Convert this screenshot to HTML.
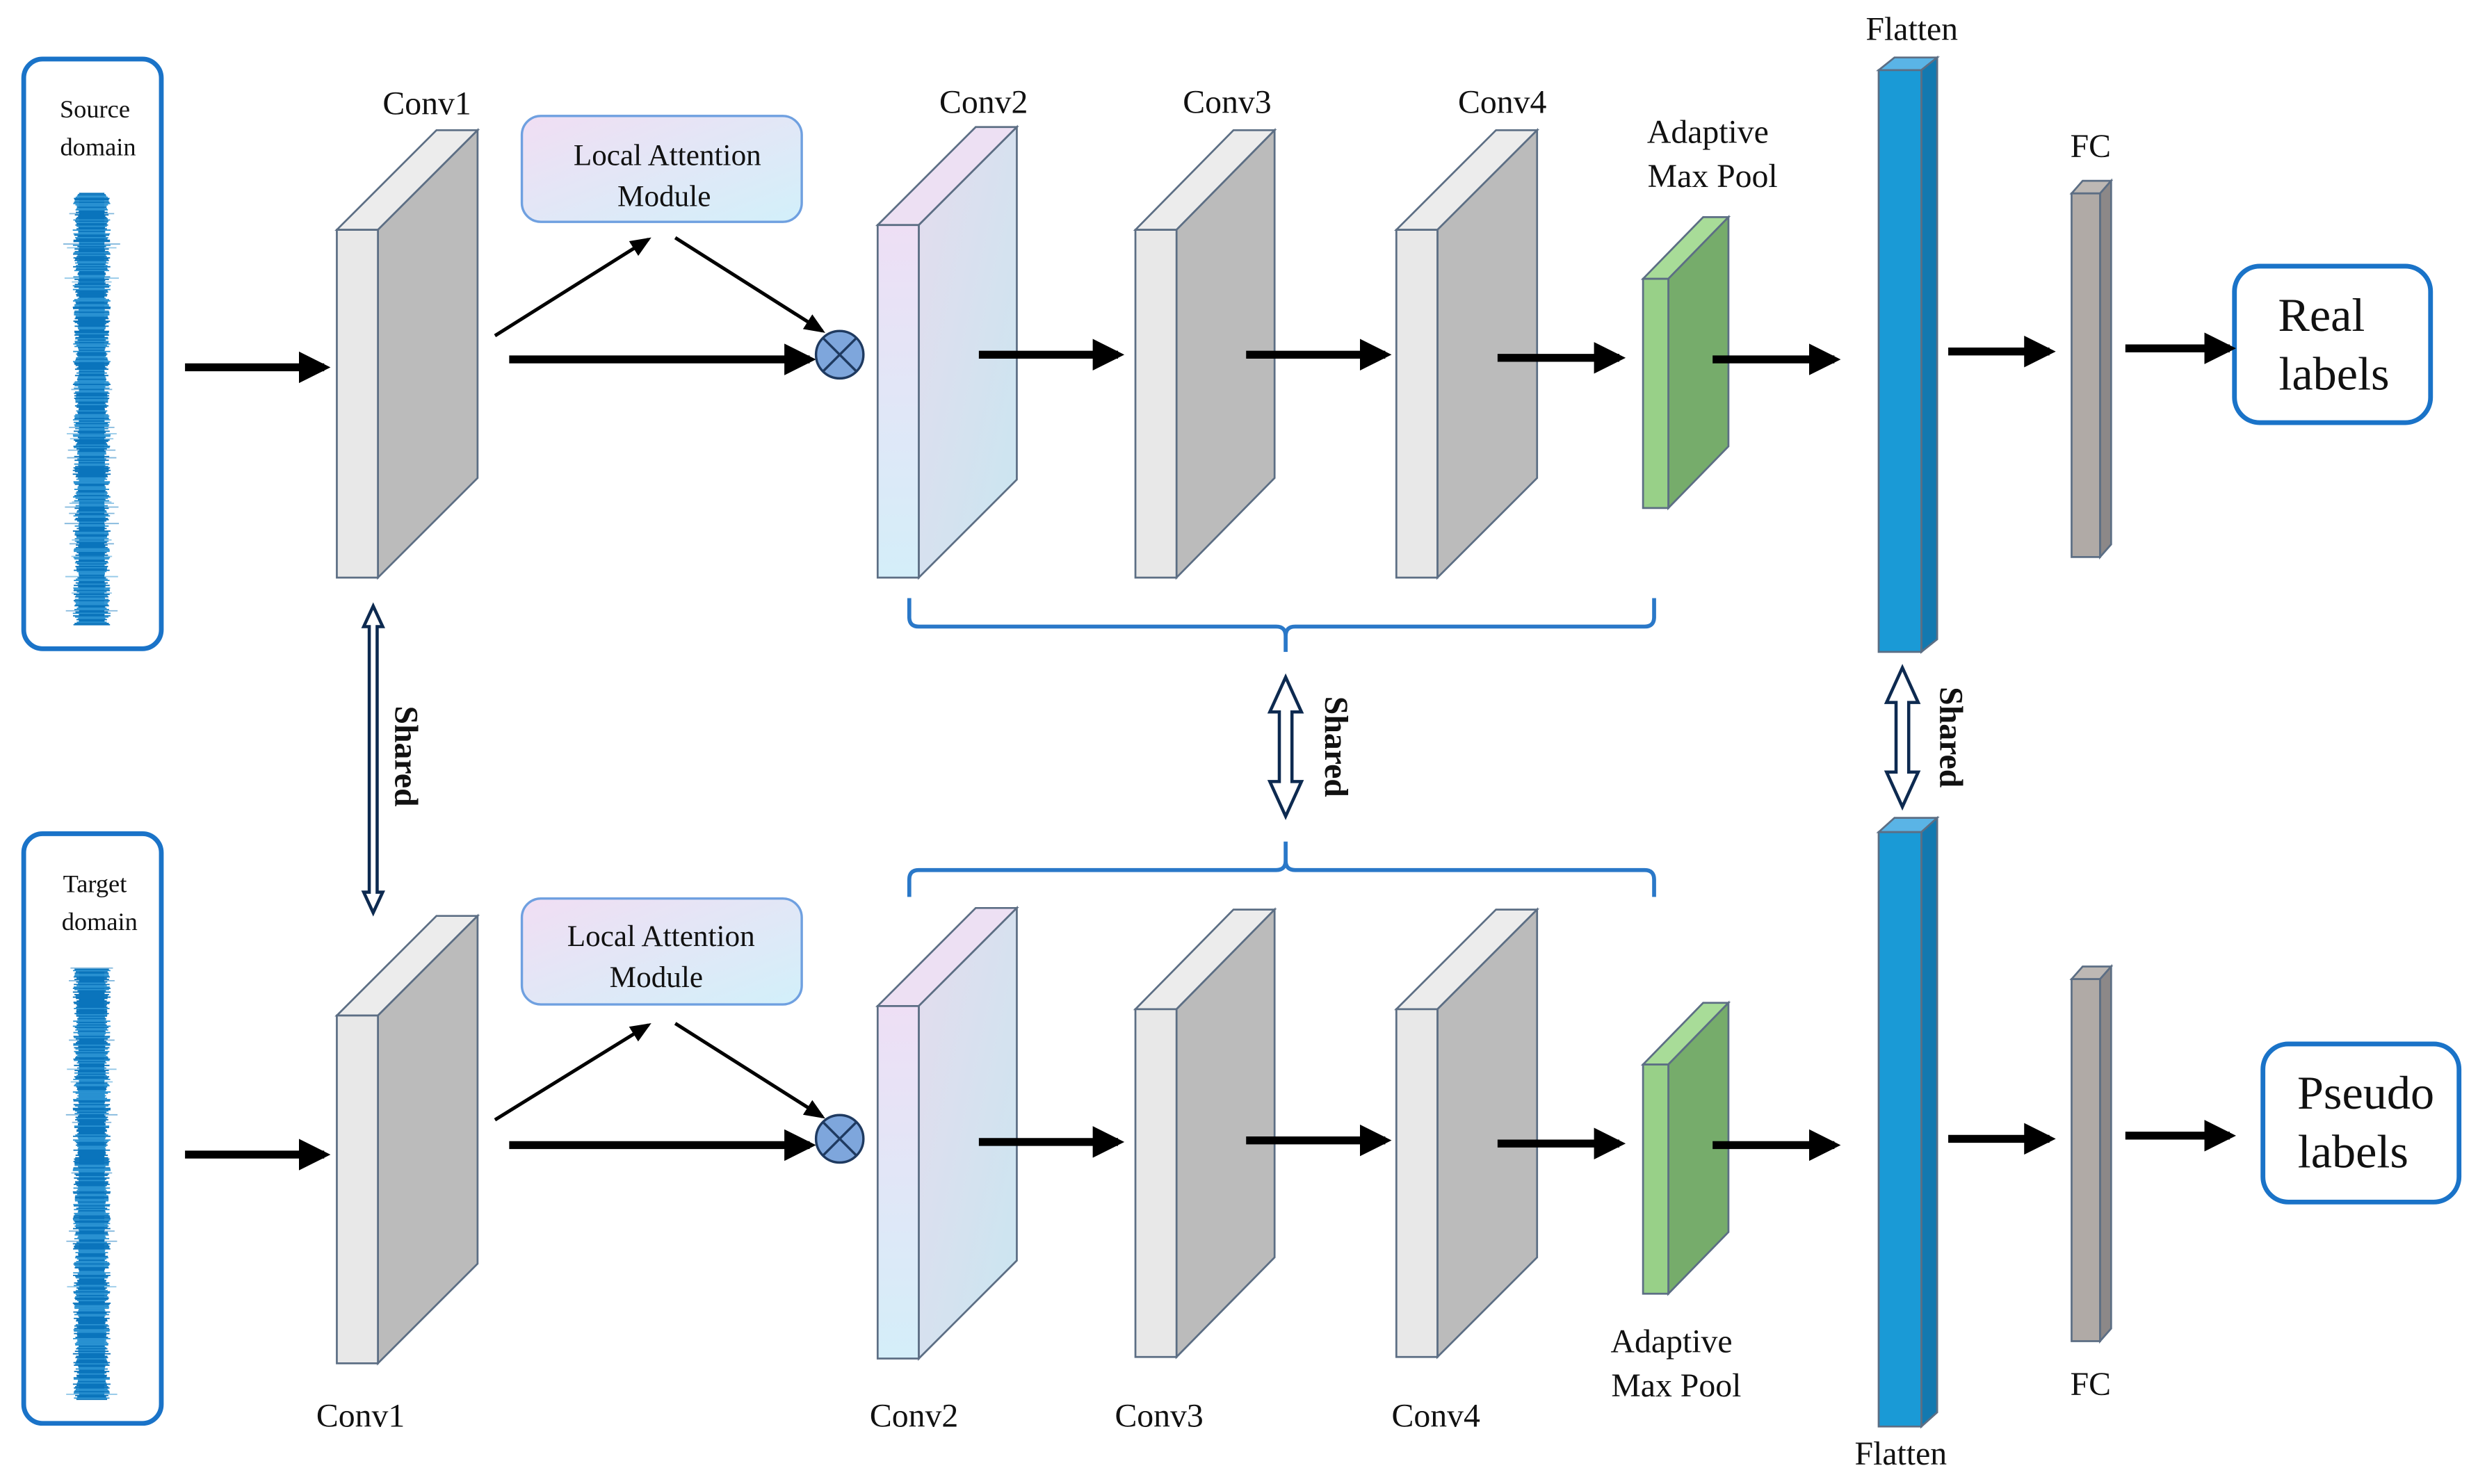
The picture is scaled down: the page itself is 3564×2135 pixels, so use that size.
<!DOCTYPE html>
<html><head><meta charset="utf-8"><style>
html,body{margin:0;padding:0;background:#fff;}
svg{display:block;font-family:"Liberation Serif","Times New Roman","DejaVu Serif",serif;}
svg text{font-family:"Liberation Serif","Times New Roman","DejaVu Serif",serif;fill:#111;}
</style></head><body>
<svg id="s" width="3564" height="2135" viewBox="0 0 1567 938" xmlns="http://www.w3.org/2000/svg" font-family="Liberation Serif, Times New Roman, DejaVu Serif, serif">
<defs>
<marker id="ah" markerWidth="4" markerHeight="4" refX="3.2" refY="2" orient="auto" markerUnits="strokeWidth"><path d="M0,0 L4,2 L0,4 Z" fill="#000"/></marker>
<marker id="ahs" markerWidth="6" markerHeight="6" refX="5" refY="3" orient="auto" markerUnits="strokeWidth"><path d="M0,0.5 L6,3 L0,5.5 Z" fill="#000"/></marker>
<linearGradient id="lam" x1="0" y1="0" x2="1" y2="1"><stop offset="0" stop-color="#f1def3"/><stop offset="1" stop-color="#d2f0fa"/></linearGradient>
<linearGradient id="c2f" x1="0" y1="0" x2="0" y2="1"><stop offset="0" stop-color="#eedff5"/><stop offset="1" stop-color="#d4eef9"/></linearGradient>
<linearGradient id="c2s" x1="0" y1="0" x2="1" y2="1"><stop offset="0" stop-color="#e4dcee"/><stop offset="1" stop-color="#c9e6f0"/></linearGradient>
</defs>
<g fill="none" stroke="#1a73c8" stroke-width="3">
<rect x="15" y="37" width="87" height="373" rx="12"/>
<rect x="15" y="527" width="87" height="373" rx="12"/>
<rect x="1413" y="168" width="124" height="99" rx="16"/>
<rect x="1431" y="660" width="124" height="100" rx="16"/>
</g>
<g id="wave"></g>
<text x="60" y="74" font-size="16" text-anchor="middle">Source</text>
<text x="62" y="98" font-size="16" text-anchor="middle">domain</text>
<text x="60" y="564" font-size="16" text-anchor="middle">Target</text>
<text x="63" y="588" font-size="16" text-anchor="middle">domain</text>
<text x="1468" y="209" font-size="30" text-anchor="middle">Real</text>
<text x="1476" y="246" font-size="30" text-anchor="middle">labels</text>
<text x="1496" y="701" font-size="30" text-anchor="middle">Pseudo</text>
<text x="1488" y="738" font-size="30" text-anchor="middle">labels</text>

<g id="slabs" stroke="#5c6e84" stroke-width="1.2"></g>

<g stroke="#6fa0e0" stroke-width="1.5" fill="url(#lam)">
<rect x="330" y="73" width="177" height="67" rx="12"/>
<rect x="330" y="568" width="177" height="67" rx="12"/>
</g>
<text x="422" y="104" font-size="19" text-anchor="middle">Local Attention</text>
<text x="420" y="130" font-size="19" text-anchor="middle">Module</text>
<text x="418" y="598" font-size="19" text-anchor="middle">Local Attention</text>
<text x="415" y="624" font-size="19" text-anchor="middle">Module</text>

<g font-size="21" text-anchor="middle">
<text x="270" y="72">Conv1</text><text x="622" y="71">Conv2</text><text x="776" y="71">Conv3</text><text x="950" y="71">Conv4</text>
<text x="1080" y="90">Adaptive</text><text x="1083" y="118">Max Pool</text>
<text x="1209" y="25">Flatten</text><text x="1322" y="99">FC</text>
<text x="228" y="902">Conv1</text><text x="578" y="902">Conv2</text><text x="733" y="902">Conv3</text><text x="908" y="902">Conv4</text>
<text x="1057" y="855">Adaptive</text><text x="1060" y="883">Max Pool</text>
<text x="1202" y="926">Flatten</text><text x="1322" y="882">FC</text>
</g>

<g stroke="#000" stroke-width="5" marker-end="url(#ah)">
<line x1="117" y1="232" x2="205" y2="232"/><line x1="322" y1="227" x2="512" y2="227"/>
<line x1="619" y1="224" x2="707" y2="224"/><line x1="788" y1="224" x2="876" y2="224"/>
<line x1="947" y1="226" x2="1024" y2="226"/><line x1="1083" y1="227" x2="1160" y2="227"/>
<line x1="1232" y1="222" x2="1296" y2="222"/><line x1="1344" y1="220" x2="1410" y2="220"/>
<line x1="117" y1="730" x2="205" y2="730"/><line x1="322" y1="724" x2="512" y2="724"/>
<line x1="619" y1="722" x2="707" y2="722"/><line x1="788" y1="721" x2="876" y2="721"/>
<line x1="947" y1="723" x2="1024" y2="723"/><line x1="1083" y1="724" x2="1160" y2="724"/>
<line x1="1232" y1="720" x2="1296" y2="720"/><line x1="1344" y1="718" x2="1410" y2="718"/>
</g>
<g stroke="#000" stroke-width="2.2" marker-end="url(#ahs)">
<line x1="313" y1="212" x2="410" y2="151"/><line x1="427" y1="150" x2="520" y2="209"/>
<line x1="313" y1="708" x2="410" y2="648"/><line x1="427" y1="647" x2="520" y2="706"/>
</g>
<g stroke="#1f3a60" stroke-width="1.5" fill="#7ea6dc">
<circle cx="531" cy="224" r="15"/><circle cx="531" cy="720" r="15"/>
</g>
<g stroke="#1f3a60" stroke-width="1.5">
<line x1="520.4" y1="213.4" x2="541.6" y2="234.6"/><line x1="541.6" y1="213.4" x2="520.4" y2="234.6"/>
<line x1="520.4" y1="709.4" x2="541.6" y2="730.6"/><line x1="541.6" y1="709.4" x2="520.4" y2="730.6"/>
</g>

<g fill="none" stroke="#2a78c8" stroke-width="2.5">
<path d="M575,378 L575,390 Q575,396 581,396 L807,396 Q813,396 813,402 L813,412 M813,402 Q813,396 819,396 L1040,396 Q1046,396 1046,390 L1046,378"/>
<path d="M575,567 L575,556 Q575,550 581,550 L807,550 Q813,550 813,544 L813,532 M813,544 Q813,550 819,550 L1040,550 Q1046,550 1046,556 L1046,567"/>
</g>
<g fill="#fff" stroke="#0d2a50" stroke-width="2">
<polygon points="236,383 242,396 238.5,396 238.5,564 242,564 236,577 230,564 233.5,564 233.5,396 230,396"/>
<polygon points="813,428 823,450 817,450 817,494 823,494 813,516 803,494 809,494 809,450 803,450"/>
<polygon points="1203,422 1213,444 1207,444 1207,488 1213,488 1203,510 1193,488 1199,488 1199,444 1193,444"/>
</g>
<g font-size="21" font-weight="bold">
<text transform="translate(250,478) rotate(90)" text-anchor="middle">Shared</text>
<text transform="translate(838,472) rotate(90)" text-anchor="middle">Shared</text>
<text transform="translate(1227,466) rotate(90)" text-anchor="middle">Shared</text>
</g>
</svg>
<script>
var NS="http://www.w3.org/2000/svg",s=document.getElementById("slabs");
function poly(pts,fill){var p=document.createElementNS(NS,"polygon");p.setAttribute("points",pts.map(function(a){return a.join(",")}).join(" "));p.setAttribute("fill",fill);s.appendChild(p);}
function slab(x,y,w,h,dx,dy,front,top,side){
 poly([[x,y],[x+w,y],[x+w+dx,y-dy],[x+dx,y-dy]],top);
 poly([[x+w,y],[x+w+dx,y-dy],[x+w+dx,y+h-dy],[x+w,y+h]],side);
 poly([[x,y],[x+w,y],[x+w,y+h],[x,y+h]],front);
}
[0,497].forEach(function(o,i){
 slab(213,145+o,26,220,63,63,"#e8e8e8","#ececec","#bbbbbb");
 slab(555,142+o-(i?3:0),26,223,62,62,"url(#c2f)","#ede0f3","url(#c2s)");
 slab(718,145+o-(i?4:0),26,220,62,63,"#e8e8e8","#ececec","#bbbbbb");
 slab(883,145+o-(i?4:0),26,220,63,63,"#e8e8e8","#ececec","#bbbbbb");
 slab(1039,176+o,16,145,38,39,"#98d088","#a8dc98","#76ac6b");
});
slab(1188,44,27,368,10,8,"#1a9ad6","#5ab4e6","#1379b0");
slab(1188,526,27,376,10,9,"#1a9ad6","#5ab4e6","#1379b0");
slab(1310,122,18,230,7,8,"#b0aaa6","#bdb8b4","#8c8888");
slab(1310,619,18,229,7,8,"#b0aaa6","#bdb8b4","#8c8888");
var w=document.getElementById("wave"),seed=7;
function r(){seed=(seed*16807)%2147483647;return seed/2147483647;}
[[122,395],[612,885]].forEach(function(b){
 var c=document.createElementNS(NS,"rect");
 c.setAttribute("x",50);c.setAttribute("y",b[0]+2);c.setAttribute("width",16);c.setAttribute("height",b[1]-b[0]-4);c.setAttribute("fill","#0a74bc");w.appendChild(c);
 for(var y=b[0];y<=b[1];y+=0.8){
  var a=8+r()*4+(r()<0.06?r()*7:0);
  var l=document.createElementNS(NS,"line");
  l.setAttribute("x1",58-a);l.setAttribute("x2",58+a);l.setAttribute("y1",y);l.setAttribute("y2",y);
  l.setAttribute("stroke",r()<0.6?"#0a74bc":"#2a92d2");l.setAttribute("stroke-width","0.8");l.setAttribute("opacity",a>12?"0.5":"1");w.appendChild(l);
 }
});
</script>
</body></html>
